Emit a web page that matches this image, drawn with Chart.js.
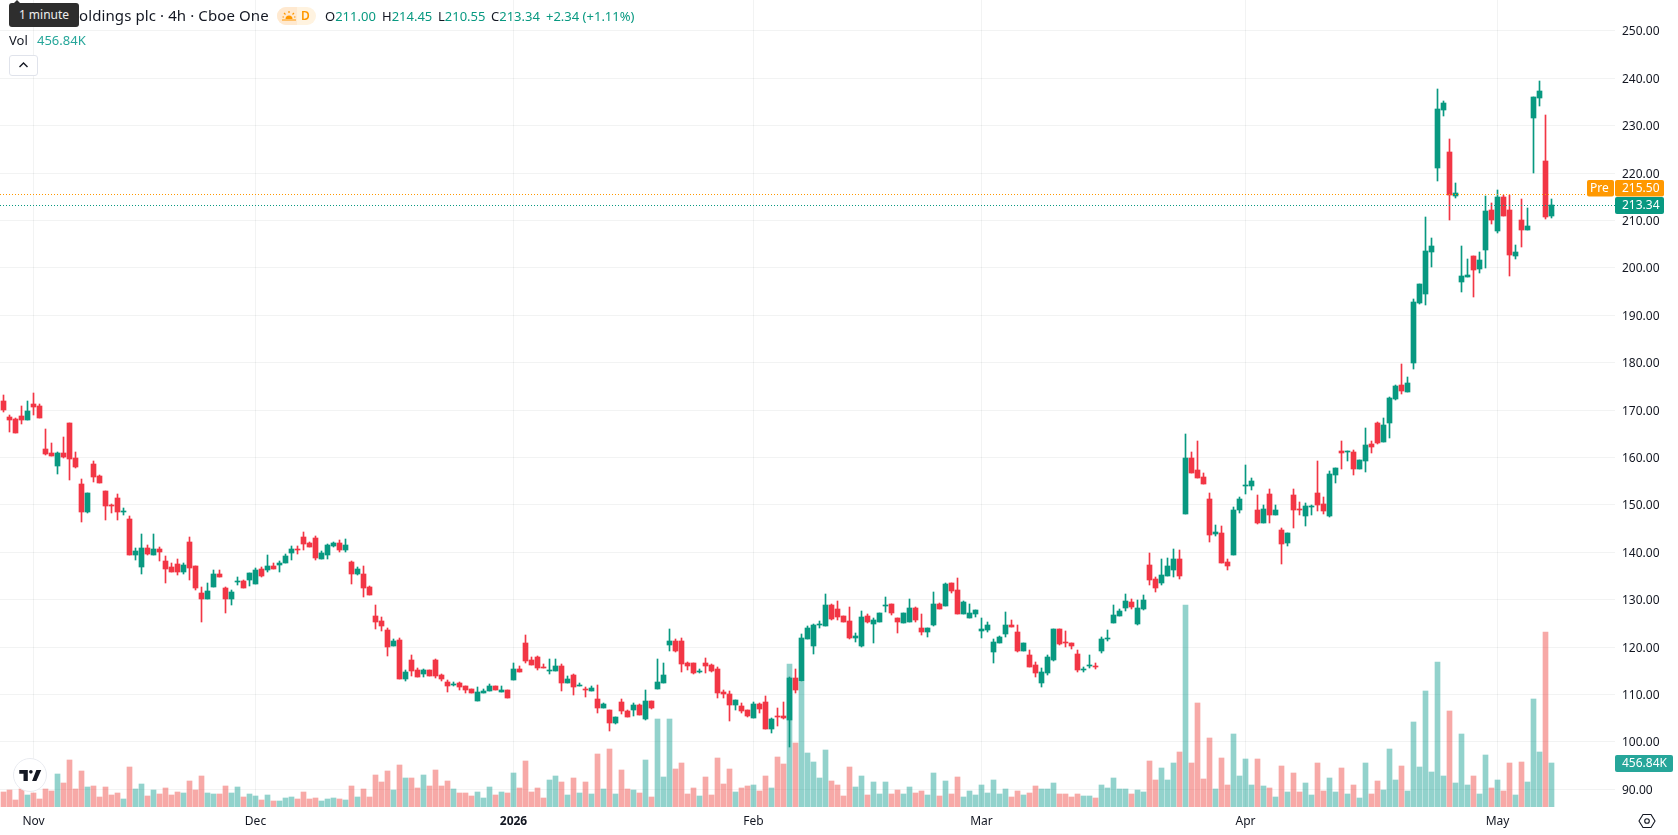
<!DOCTYPE html>
<html>
<head>
<meta charset="utf-8">
<title>4h chart</title>
<script src="https://cdn.jsdelivr.net/npm/chart.js"></script>
<style>
    html, body { margin: 0; padding: 0; background: #fff; }
    body { width: 1678px; height: 835px; position: relative; overflow: hidden; font-family: "Noto Sans", sans-serif; color: #131722; }
    canvas { position: absolute; left: 0; top: 0; }
    .txt { position: absolute; white-space: nowrap; font-size: 13px; line-height: 18px; }
    .up { color: #089981; }
    .tip { position: absolute; left: 9px; top: 3px; width: 70px; height: 24px; background: #2e2e2e; border-radius: 3px; color: #eee; font-size: 12px; line-height: 24px; text-align: center; }
    .tip:before { content: ""; position: absolute; left: 4px; top: -3px; border: 4px solid transparent; border-top: 0; border-bottom-color: #2e2e2e; }
    .badge { position: absolute; left: 277px; top: 7px; width: 39px; height: 18px; border-radius: 9px; background: #fff3e0; overflow: hidden; }
    .badge i { position: absolute; left: 0; top: 0; width: 20px; height: 18px; background: #ffe9d0; }
    .collapse { position: absolute; left: 9px; top: 55px; width: 27px; height: 19px; border: 1px solid #e0e3eb; border-radius: 3px; background: #fff; }
    .logo { position: absolute; left: 13px; top: 758px; width: 32px; height: 32px; border: 1px solid #e9ebf0; border-radius: 50%; background: #fff; }
</style>
</head>
<body>
<canvas id="chart" width="1678" height="835"></canvas>

<div class="txt" style="left:79px;top:5px;font-size:15px;line-height:20px;letter-spacing:0.1px">oldings plc · 4h · Cboe One</div>
<div class="tip">1 minute</div>
<div class="badge"><i></i>
    <svg style="position:absolute;left:5px;top:3px" width="14" height="12" viewBox="0 0 14 12"><path d="M3.5 9a3.5 3.5 0 0 1 7 0z" fill="#ff9800"/><path d="M0 10h14M7 1v2M2 3l1.5 1.5M12 3l-1.5 1.5M0.5 7h1.5M12 7h1.5" stroke="#ff9800" stroke-width="1.2"/></svg>
    <div class="txt" style="left:24px;top:0;color:#ff9800;font-weight:600;font-size:12px">D</div>
</div>
<div class="txt" style="left:325px;top:7px">O<span class="up">211.00</span></div>
<div class="txt" style="left:382px;top:7px">H<span class="up">214.45</span></div>
<div class="txt" style="left:438px;top:7px">L<span class="up">210.55</span></div>
<div class="txt" style="left:491px;top:7px">C<span class="up">213.34</span></div>
<div class="txt up" style="left:546px;top:7px">+2.34 (+1.11%)</div>
<div class="txt" style="left:9px;top:31px">Vol</div>
<div class="txt" style="left:37px;top:31px;color:#26a69a">456.84K</div>
<div class="collapse"><svg style="position:absolute;left:8px;top:5px" width="11" height="8" viewBox="0 0 11 8"><path d="M1.5 6L5.5 2l4 4" fill="none" stroke="#131722" stroke-width="1.4"/></svg></div>
<div class="logo"><svg style="position:absolute;left:5px;top:11px" width="22.5" height="11" viewBox="0 0 36 18"><path d="M14 0H0v6h7v12h7zM28 18h-7l7-18h8z" fill="#131722"/><circle cx="19" cy="3" r="3" fill="#131722"/></svg></div>
<svg style="position:absolute;left:1638px;top:812px" width="18" height="18" viewBox="0 0 18 18"><path d="M5 2.5h8L17 9l-4 6.500H5L1 9z" fill="none" stroke="#131722" stroke-width="1.1"/><circle cx="9" cy="9" r="2.300" fill="none" stroke="#131722" stroke-width="1.1"/></svg>

<script>
const opens = [
    171.97,168.6,168.18,168.81,167.97,171.34,170.91,161.86,161.02,158.28,
    161.02,167.33,159.96,154.49,148.59,158.7,156.17,153.01,150.07,151.54,
    148.59,147.12,139.53,136.8,141.01,139.53,140.8,138.27,136.8,137.64,
    135.95,142.27,137.01,131.32,130.06,132.59,135.53,132.38,130.06,133.64,
    133.85,134.06,133.22,136.38,136.17,137.01,137.22,137.85,139.96,140.8,
    143.32,142.06,143.12,138.69,139.53,141.43,142.06,140.59,138.06,135.32,
    135.53,132.59,126.48,125.43,123.54,120.17,121.43,113.22,117.22,115.11,
    114.27,115.11,117.22,114.06,112.59,111.95,112.38,111.74,111.11,108.58,
    110.27,110.69,111.74,110.48,110.9,113.01,115.32,120.8,117.22,117.85,
    115.75,114.9,114.9,115.96,112.38,114.06,111.74,111.11,110.69,109.01,
    107.11,106.69,103.95,108.37,106.48,106.69,107.74,104.79,108.58,111.11,
    112.38,120.38,121.22,121.22,116.59,116.59,114.69,116.59,116.17,115.32,
    110.48,110.06,107.74,107.53,106.69,105.0,107.95,108.37,102.69,105.43,
    105.43,104.58,113.43,112.8,121.64,120.17,124.59,124.38,128.8,127.96,
    126.49,125.43,121.85,120.17,126.49,124.8,125.22,128.59,129.01,126.06,
    125.01,125.22,128.17,123.96,123.12,124.59,129.01,128.59,133.44,131.96,
    126.91,126.06,126.91,123.33,123.54,118.9,120.8,122.7,124.59,123.12,
    119.11,118.27,116.17,112.38,114.48,117.22,123.75,121.01,120.8,118.48,
    115.11,115.96,115.96,119.11,121.64,125.01,126.49,128.17,129.43,124.8,
    127.96,137.23,134.28,133.44,134.9,136.17,138.69,148.17,159.96,157.44,
    155.96,151.33,143.96,144.17,138.06,139.53,149.01,154.07,154.07,149.01,
    146.27,152.38,147.96,144.8,142.06,152.17,149.22,147.75,149.64,152.59,
    150.28,147.75,156.38,161.44,161.23,161.23,157.65,159.33,162.91,167.33,
    163.33,167.33,172.39,175.2,173.86,179.84,192.68,194.58,203.42,221.12,
    233.33,224.48,215.22,197.11,198.16,202.58,199.85,203.85,212.27,207.85,
    215.0,212.27,202.58,210.16,208.06,231.65,235.86,222.59,211.0
];
const highs = [
    173.23,169.02,168.39,170.91,171.97,173.65,171.34,166.07,163.12,161.23,
    164.39,167.33,161.23,155.54,152.59,159.33,156.38,153.01,150.28,152.38,
    149.43,147.75,141.01,143.96,141.64,143.96,141.22,139.32,137.85,138.69,
    137.85,143.32,137.01,132.59,133.43,136.17,136.17,132.59,131.95,134.69,
    134.06,135.74,136.59,136.8,139.53,137.85,138.27,139.74,141.43,141.43,
    144.38,142.27,143.54,140.38,141.85,142.27,142.69,142.9,138.27,136.8,
    137.01,132.8,128.79,126.27,124.1,121.64,121.85,115.11,118.27,115.53,
    115.32,115.11,117.43,114.27,113.01,112.59,112.59,111.74,111.11,111.53,
    111.11,112.17,111.74,111.74,110.9,116.59,115.96,122.48,117.85,118.06,
    116.38,117.43,117.43,116.38,113.85,114.27,112.38,111.53,111.74,111.95,
    108.16,106.69,105.22,109.01,106.69,108.16,107.95,110.9,108.58,117.43,
    116.59,123.75,121.64,121.85,116.8,116.59,115.32,117.64,116.38,115.75,
    110.9,110.69,108.79,108.16,106.69,108.37,108.16,109.64,105.0,107.11,
    108.37,113.64,115.32,122.7,124.38,124.8,125.43,131.12,129.01,129.64,
    126.49,128.38,122.91,127.54,126.91,126.06,127.12,130.49,129.01,126.06,
    127.12,130.07,128.38,126.91,123.96,131.54,129.22,133.44,133.44,134.49,
    129.64,129.01,127.75,126.06,125.22,121.64,122.27,127.33,125.64,124.59,
    120.8,119.33,116.8,115.53,118.27,123.75,123.75,123.33,120.8,119.33,
    115.75,118.27,116.59,122.06,123.54,128.8,127.96,131.12,130.07,129.86,
    130.91,139.96,134.69,138.69,138.9,140.8,140.59,165.02,161.23,163.54,
    156.8,152.59,145.85,145.64,138.69,149.64,151.75,158.49,155.75,152.17,
    150.07,153.43,150.07,145.22,144.17,153.43,150.7,150.49,150.07,159.33,
    151.75,157.23,157.86,163.54,161.44,161.65,159.54,166.28,163.54,167.54,
    168.39,172.81,175.34,179.63,176.89,193.53,196.69,210.8,206.37,237.75,
    235.23,227.22,217.96,204.69,201.95,202.58,203.42,215.22,213.75,216.48,
    215.43,215.43,204.9,214.59,212.69,236.07,239.44,232.28,214.45
];
const lows = [
    169.65,165.44,165.23,167.12,167.97,169.02,168.39,160.6,160.38,156.59,
    159.96,155.33,157.86,146.48,148.38,154.91,154.7,146.91,148.38,146.91,
    147.96,139.53,138.48,135.32,139.53,139.53,138.27,133.43,135.95,135.11,
    135.32,134.06,131.95,125.22,130.06,132.59,134.69,127.11,128.79,133.01,
    132.38,132.8,133.22,134.69,135.95,136.38,135.95,137.85,138.48,139.74,
    140.59,141.22,138.48,138.69,138.69,141.22,140.17,140.17,133.22,135.11,
    130.48,130.9,123.74,123.32,118.06,120.17,113.22,112.8,113.85,113.64,
    113.64,113.85,113.43,112.8,110.48,111.74,110.9,110.27,110.27,108.58,
    110.27,110.69,110.9,110.48,109.22,113.01,114.69,116.59,116.17,115.11,
    115.53,114.27,114.9,110.69,112.38,109.85,111.74,109.43,110.69,106.06,
    107.11,102.27,103.74,105.85,105.22,105.43,105.64,104.58,106.9,111.11,
    112.38,119.11,118.9,114.69,115.11,114.27,114.48,114.48,114.69,109.22,
    109.22,104.37,106.69,106.06,105.22,105.0,106.06,102.69,101.85,103.32,
    104.79,99.0,110.27,112.8,121.64,118.48,123.96,124.38,125.64,125.64,
    125.22,121.64,121.01,119.96,125.01,120.8,125.22,127.33,126.7,122.91,
    125.01,125.22,125.22,122.48,122.06,124.38,127.96,128.59,131.33,126.91,
    126.91,126.06,126.27,121.85,123.12,116.59,120.8,122.06,124.17,118.9,
    119.11,115.75,113.64,111.53,114.06,117.01,120.38,119.96,119.54,114.69,
    114.69,115.53,115.32,118.69,121.22,125.01,126.49,127.54,127.96,124.59,
    127.75,133.01,131.54,133.0,134.9,134.69,134.27,148.17,156.8,155.75,
    154.49,142.27,143.54,137.85,136.17,139.53,148.38,152.38,153.22,146.06,
    146.27,146.27,147.96,137.64,141.43,145.22,147.96,145.64,147.96,148.8,
    148.17,147.54,154.7,157.65,159.33,156.38,157.65,157.02,161.02,162.91,
    163.33,164.18,172.18,173.44,173.86,178.57,192.47,192.26,200.27,218.38,
    232.07,210.16,214.8,195.0,198.16,193.95,199.0,200.05,209.32,207.43,
    211.0,198.37,201.95,204.48,208.06,220.06,234.17,210.37,210.55
];
const closes = [
    170.07,167.97,165.23,167.97,169.86,170.7,168.39,160.81,160.38,161.02,
    160.17,159.75,158.07,148.59,152.59,155.96,154.7,149.85,149.85,148.59,
    148.8,139.53,140.38,141.01,139.74,140.8,140.17,136.38,135.95,135.95,
    137.22,136.59,132.38,130.06,131.74,135.53,134.69,130.06,131.53,133.85,
    132.38,135.74,136.17,134.9,137.01,136.38,137.85,139.32,140.8,140.59,
    141.85,141.22,138.9,139.96,141.64,142.06,140.59,141.64,135.32,136.38,
    132.38,130.9,125.22,124.37,119.96,121.22,113.22,114.69,114.9,113.64,
    115.11,113.85,113.85,113.22,111.74,112.17,111.53,110.9,110.27,110.48,
    110.69,111.74,110.9,110.9,109.22,115.32,114.69,117.0,116.17,115.53,
    115.53,115.11,115.96,112.38,113.22,111.53,111.95,110.9,111.32,107.11,
    107.95,103.95,105.22,106.48,105.22,107.74,105.64,108.58,107.11,112.59,
    114.06,121.22,119.11,116.38,115.96,114.48,114.9,115.96,114.9,110.27,
    110.06,107.74,108.79,106.48,105.43,107.95,106.9,102.69,104.79,105.22,
    105.0,113.43,110.9,121.85,123.96,124.59,124.8,128.8,125.85,126.27,
    125.22,121.85,122.27,126.27,125.22,125.64,127.12,128.8,127.12,125.22,
    127.12,128.17,125.64,123.12,123.96,129.01,127.96,133.23,131.75,126.91,
    129.43,127.12,127.75,123.75,124.59,121.01,122.06,124.59,124.17,119.11,
    120.8,115.75,114.48,114.69,117.85,123.75,120.59,120.8,120.17,115.11,
    115.32,116.17,115.75,121.64,121.85,126.7,127.54,129.64,128.38,128.17,
    129.86,134.07,132.38,135.11,137.01,138.69,134.9,159.96,156.8,155.75,
    154.49,143.75,144.38,137.85,137.01,149.01,151.33,154.28,155.12,146.27,
    149.22,147.96,149.01,141.85,144.17,149.01,149.01,149.85,149.85,150.07,
    148.8,156.59,157.86,161.02,161.44,157.65,159.54,162.7,162.28,163.12,
    166.91,172.6,175.13,174.07,175.62,192.89,196.69,203.64,204.69,233.54,
    234.81,215.43,215.85,198.37,198.58,199.64,201.74,212.06,210.16,215.0,
    211.0,202.79,203.42,208.06,208.9,236.07,237.33,210.8,213.34
];
// volume per bar, thousands of shares
const volumes = [
    156,176,73,187,125,145,83,187,166,343,249,488,187,374,208,218,104,208,125,145,
    83,415,187,239,114,176,135,197,125,156,145,270,176,322,145,135,135,218,145,208,
    104,135,114,73,125,62,62,93,104,83,156,83,93,62,83,93,83,73,218,104,
    187,104,332,260,374,176,436,301,301,197,332,218,384,218,270,187,145,145,114,156,
    93,208,125,156,145,353,197,477,156,197,93,280,322,256,121,298,142,256,131,547,
    183,599,131,381,183,173,142,484,100,910,308,910,391,453,131,194,111,308,121,505,
    235,391,152,194,215,225,163,318,194,516,443,1481,661,1294,557,464,298,588,266,225,
    111,412,204,318,121,256,131,256,131,173,131,204,142,163,121,349,111,266,131,308,
    100,163,121,225,142,277,131,183,100,163,121,142,215,183,183,246,131,131,100,131,
    111,111,90,225,194,298,187,187,135,176,156,477,280,405,280,457,571,2097,457,1080,
    291,716,187,509,228,758,322,498,228,498,218,197,104,426,156,353,156,249,125,457,
    166,301,156,405,135,228,93,457,135,270,176,602,280,426,166,882,415,1204,363,1505,
    322,996,249,758,228,322,135,540,197,280,166,457,125,467,260,1121,571,1817,456.84
];
const priceTicks = [90,100,110,120,130,140,150,160,170,180,190,200,210,220,230,240,250];
const monthBars = [5,42,85,125,163,207,249];
const monthLabels = ['Nov','Dec','2026','Feb','Mar','Apr','May'];
const lastPrice = 213.34;
const prePrice = 215.50;

const upColor = '#089981', downColor = '#F23645';
const gridColor = 'rgba(42,46,57,0.06)';
const axisFont = '"Noto Sans", sans-serif';

let isUp = opens.map((o, i) => closes[i] >= o);

let wickData = highs.map((h, i) => ({ x: i, y: [lows[i], h] }));
let bodyData = opens.map((o, i) => ({ x: i, y: [o, closes[i]] }));
let volumeData = volumes.map((v, i) => ({ x: i, y: v }));

function label(ctx, text, x, y, w, h, bg, inset) {
    ctx.fillStyle = bg;
    ctx.beginPath();
    ctx.roundRect(x, y, w, h, 2);
    ctx.fill();
    ctx.fillStyle = '#fff';
    ctx.textBaseline = 'middle';
    ctx.textAlign = 'left';
    ctx.fillText(text, x + inset, y + h / 2 + 0.5);
}

// snap candle edges to whole pixels so dojis stay a sharp 1px line
const snapBars = {
    id: 'snapBars',
    afterDatasetsUpdate(chart) {
        chart.getSortedVisibleDatasetMetas().forEach(meta => {
            meta.data.forEach(el => {
                let top = Math.round(Math.min(el.y, el.base));
                let bottom = Math.round(Math.max(el.y, el.base));
                if (bottom === top) bottom = top + 1;
                el.y = top;
                el.base = bottom;
            });
        });
    }
};

// dotted last/pre price lines and the boxes sitting on the axis
const priceLines = {
    id: 'priceLines',
    afterDatasetsDraw(chart) {
        const ctx = chart.ctx, y = chart.scales.y, v = chart.scales.yVol;
        const right = chart.chartArea.right;
        const lastY = Math.round(y.getPixelForValue(lastPrice)) + 0.5;
        const preY = Math.round(y.getPixelForValue(prePrice)) + 0.5;
        ctx.save();
        ctx.lineWidth = 1;
        ctx.setLineDash([1, 2]);
        ctx.strokeStyle = '#ff9800';
        ctx.beginPath(); ctx.moveTo(0, preY); ctx.lineTo(right - 28, preY); ctx.stroke();
        ctx.strokeStyle = upColor;
        ctx.beginPath(); ctx.moveTo(0, lastY); ctx.lineTo(right, lastY); ctx.stroke();
        ctx.setLineDash([]);
        ctx.font = '12px ' + axisFont;
        label(ctx, lastPrice.toFixed(2), right, lastY - 8.5, 49, 17, upColor, 7);
        label(ctx, prePrice.toFixed(2), right, lastY - 25.5, 49, 16.5, '#ff9800', 7);
        label(ctx, 'Pre', right - 28, lastY - 25.5, 27, 16.5, '#ff9800', 3);
        const volume = volumes[volumes.length - 1];
        label(ctx, volume.toFixed(2) + 'K', right, Math.round(v.getPixelForValue(volume)) - 8, 58, 17, '#26a69a', 7);
        ctx.restore();
    }
};

function squeeze(size) {
    return (s) => {
        if (s.isHorizontal()) s.height = size; else s.width = size;
        s.paddingLeft = s.paddingRight = s.paddingTop = s.paddingBottom = 0;
    };
}

new Chart(document.getElementById('chart'), {
    type: 'bar',
    data: {
        datasets: [
            {
                label: 'Open/close', data: bodyData, yAxisID: 'y', order: 1, grouped: false,
                barThickness: 5, maxBarThickness: 5,
                backgroundColor: isUp.map(u => u ? upColor : downColor)
            },
            {
                label: 'High/low', data: wickData, yAxisID: 'y', order: 2, grouped: false,
                barThickness: 1, maxBarThickness: 1,
                backgroundColor: isUp.map(u => u ? upColor : downColor)
            },
            {
                label: 'Vol', data: volumeData, yAxisID: 'yVol', order: 3, grouped: false,
                barThickness: 5, maxBarThickness: 5,
                backgroundColor: isUp.map(u => u ? 'rgba(7,153,139,0.44)' : 'rgba(237,64,59,0.45)')
            }
        ]
    },
    plugins: [snapBars, priceLines],
    options: {
        responsive: false,
        animation: false,
        layout: { padding: 0 },
        plugins: { legend: { display: false }, tooltip: { enabled: false } },
        scales: {
            x: {
                type: 'linear',
                offset: false,
                min: -3.5 / 6,
                max: (1615 - 3.5) / 6,
                afterBuildTicks: s => { s.ticks = monthBars.map(b => ({ value: b })); },
                afterFit: squeeze(28),
                grid: { color: gridColor, drawTicks: false, offset: false },
                border: { display: false },
                ticks: {
                    autoSkip: false, maxRotation: 0, padding: 7, color: '#131722',
                    font: c => ({ family: axisFont, size: 12, weight: c.index === 2 ? '700' : '400' }),
                    callback: v => monthLabels[monthBars.indexOf(v)]
                }
            },
            y: {
                position: 'right',
                min: 86.27,
                max: 256.52,
                afterBuildTicks: s => { s.ticks = priceTicks.map(p => ({ value: p })); },
                afterFit: squeeze(63),
                grid: { color: gridColor, drawTicks: false },
                border: { display: false },
                ticks: {
                    padding: 7, labelOffset: 1, color: '#131722',
                    font: { family: axisFont, size: 12 },
                    callback: v => v.toFixed(2)
                }
            },
            yVol: { display: false, min: 0, max: 8377 }
        }
    }
});
</script>
</body>
</html>
